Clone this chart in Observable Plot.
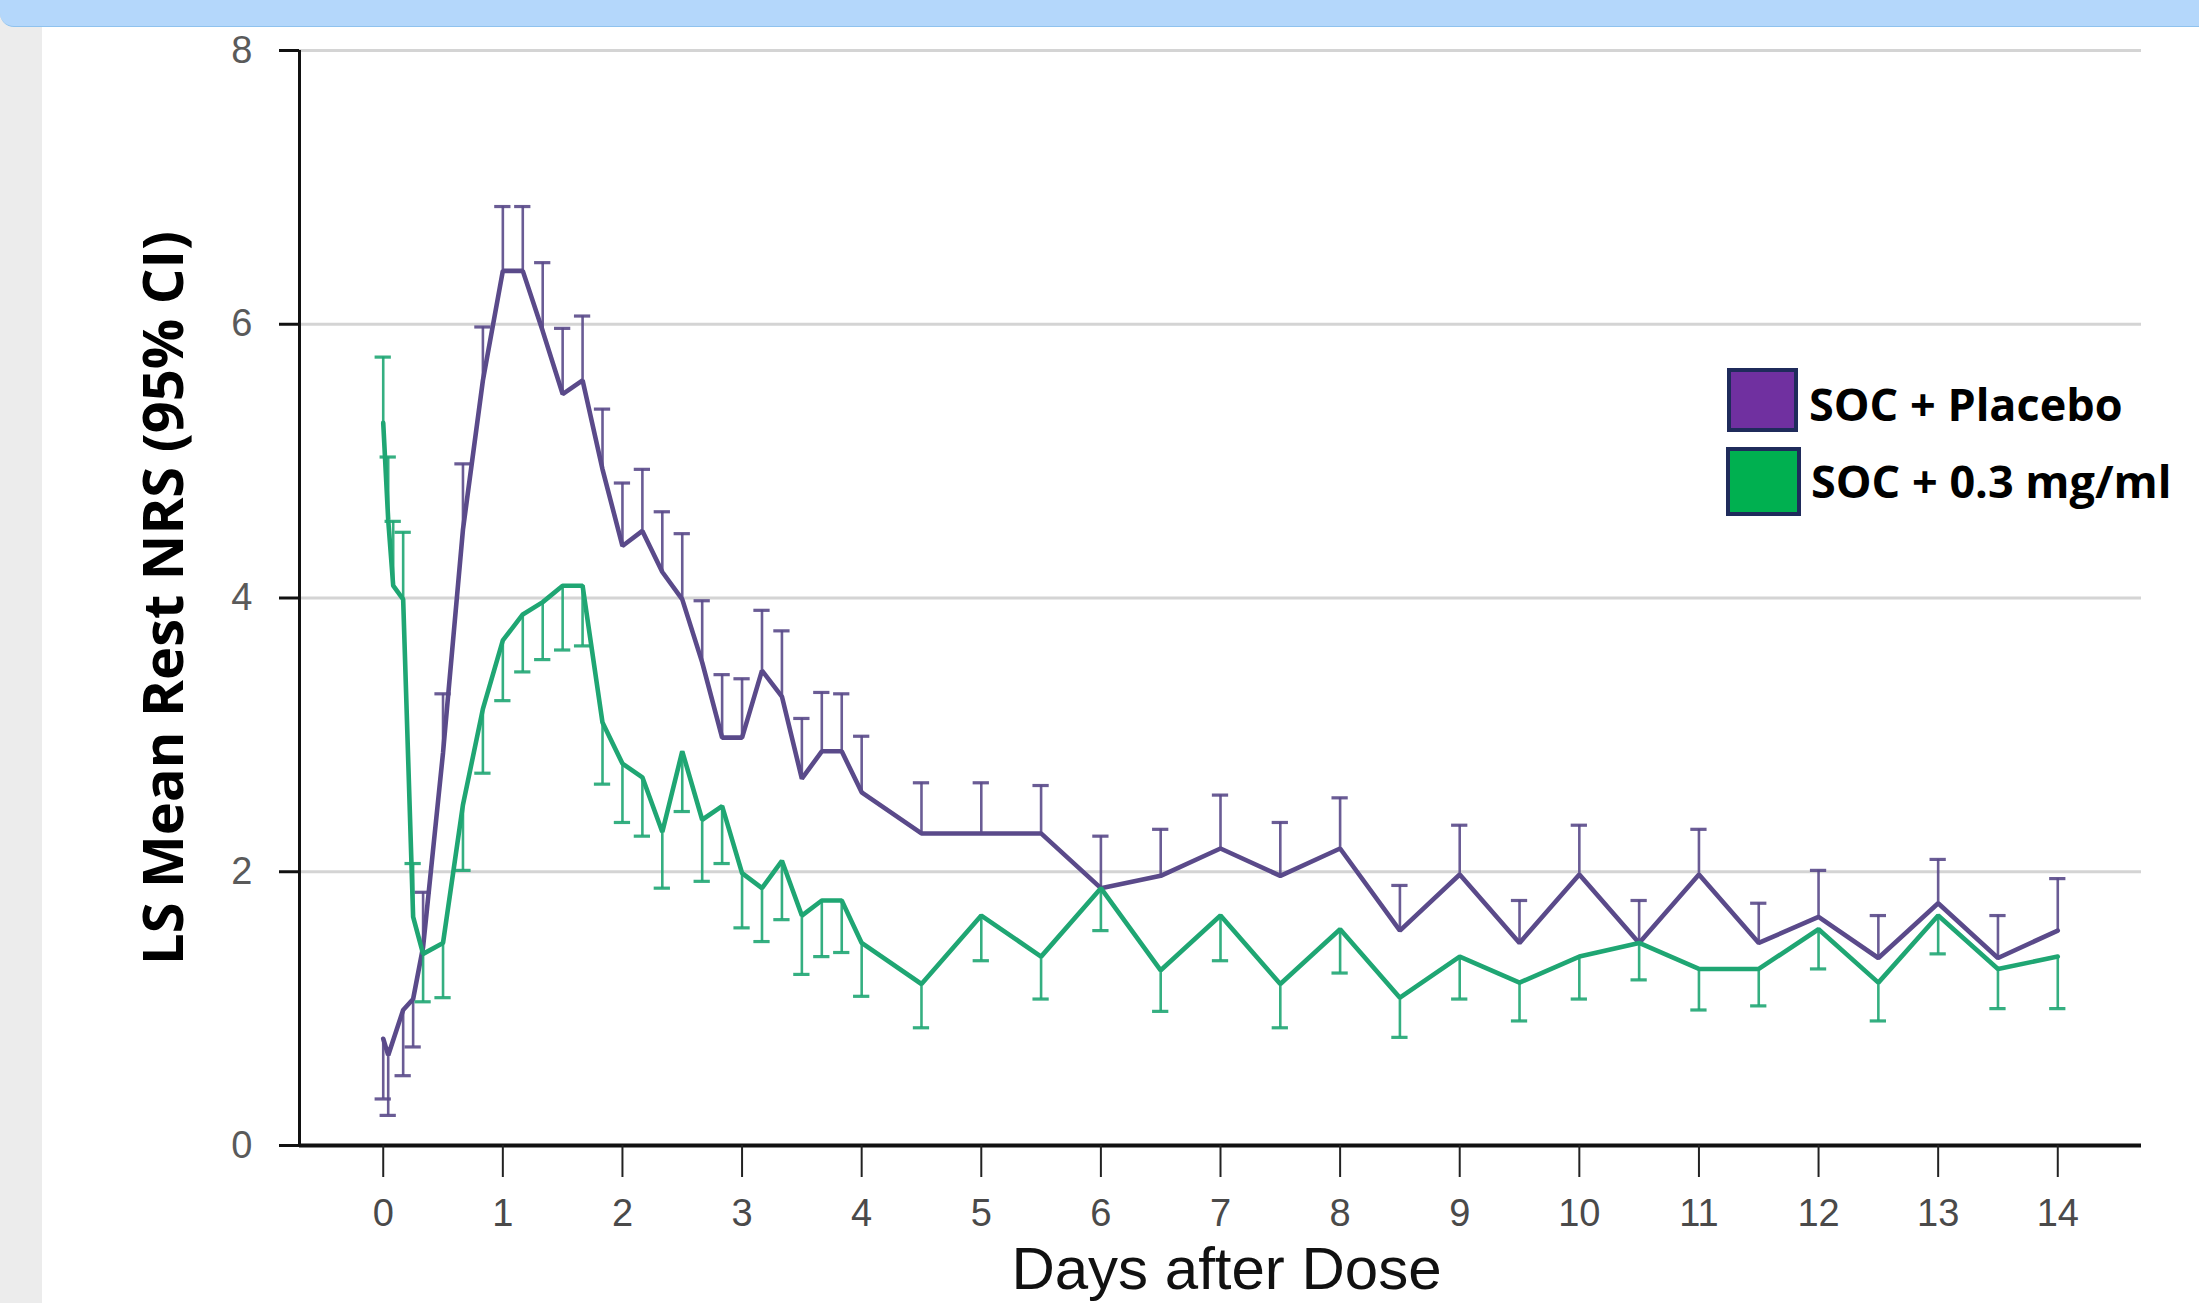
<!DOCTYPE html>
<html>
<head>
<meta charset="utf-8">
<script src="https://cdn.jsdelivr.net/npm/d3@7"></script>
<script src="https://cdn.jsdelivr.net/npm/@observablehq/plot@0.6"></script>
<style>
  html, body { margin: 0; padding: 0; background: #fff; overflow: hidden; width: 2199px; height: 1303px; }
  #chart { position: absolute; left: 0; top: 0; }
  .band { position: absolute; left: 0; top: 0; width: 2199px; height: 26px; background: #b4d7fb; border-bottom: 1px solid #8fc2ee; border-bottom-left-radius: 14px; z-index: 3; }
  .strip { position: absolute; left: 0; top: 0; width: 42px; height: 1303px; background: #ececec; z-index: 2; }
  .lgbox { position: absolute; box-sizing: border-box; border: 4px solid #1f2b5b; z-index: 4; }
  .lgtxt { position: absolute; font: bold 45px "Open Sans", sans-serif; line-height: 1; color: #000; white-space: nowrap; z-index: 4; }
</style>
</head>
<body>
<div id="chart"></div>
<div class="strip"></div>
<div class="band"></div>
<div id="legend"></div>
<script>
// ---- data ----
const seriesNames = ["SOC + Placebo", "SOC + 0.3 mg/ml"];
const seriesColors = ["#5a4a8a", "#1fa673"];
const legendColors = ["#7030a0", "#00b050"];

// hours after dose
const placeboHours = [0, 1, 4, 6,
  8, 12, 16, 20, 24, 28, 32, 36, 40, 44, 48, 52, 56, 60, 64, 68, 72, 76, 80, 84, 88, 92, 96,
  108, 120, 132, 144, 156, 168, 180, 192, 204, 216, 228, 240, 252, 264, 276, 288, 300, 312, 324, 336];
const placeboMean = [0.78, 0.66, 0.99, 1.07,
  1.45, 2.87, 4.50, 5.59, 6.39, 6.39, 5.95, 5.49, 5.59, 4.94, 4.38, 4.49, 4.19, 3.99, 3.53, 2.98, 2.98, 3.47, 3.28, 2.68, 2.88, 2.88, 2.58,
  2.28, 2.28, 2.28, 1.88, 1.97, 2.17, 1.97, 2.17, 1.57, 1.98, 1.48, 1.98, 1.48, 1.98, 1.48, 1.67, 1.37, 1.77, 1.37, 1.57];
const placeboCI = [0.34, 0.22, 0.51, 0.72,
  1.85, 3.30, 4.98, 5.98, 6.86, 6.86, 6.45, 5.97, 6.06, 5.38, 4.84, 4.94, 4.63, 4.47, 3.98, 3.44, 3.41, 3.91, 3.76, 3.12, 3.31, 3.30, 2.99,
  2.65, 2.65, 2.63, 2.26, 2.31, 2.56, 2.36, 2.54, 1.90, 2.34, 1.79, 2.34, 1.79, 2.31, 1.77, 2.01, 1.68, 2.09, 1.68, 1.95];

const drugHours = [0, 1, 2, 4, 6,
  8, 12, 16, 20, 24, 28, 32, 36, 40, 44, 48, 52, 56, 60, 64, 68, 72, 76, 80, 84, 88, 92, 96,
  108, 120, 132, 144, 156, 168, 180, 192, 204, 216, 228, 240, 252, 264, 276, 288, 300, 312, 324, 336];
const drugMean = [5.28, 4.57, 4.09, 3.99, 1.67,
  1.40, 1.48, 2.49, 3.19, 3.69, 3.88, 3.97, 4.09, 4.09, 3.09, 2.79, 2.69, 2.29, 2.88, 2.38, 2.48, 1.99, 1.88, 2.08, 1.68, 1.79, 1.79, 1.48,
  1.18, 1.68, 1.38, 1.88, 1.28, 1.68, 1.18, 1.58, 1.08, 1.38, 1.19, 1.38, 1.48, 1.29, 1.29, 1.58, 1.19, 1.68, 1.29, 1.38];
const drugCI = [5.76, 5.03, 4.56, 4.48, 2.06,
  1.05, 1.08, 2.01, 2.72, 3.25, 3.46, 3.55, 3.62, 3.65, 2.64, 2.36, 2.26, 1.88, 2.44, 1.93, 2.06, 1.59, 1.49, 1.65, 1.25, 1.38, 1.41, 1.09,
  0.86, 1.35, 1.07, 1.57, 0.98, 1.35, 0.86, 1.26, 0.79, 1.07, 0.91, 1.07, 1.21, 0.99, 1.02, 1.29, 0.91, 1.40, 1.00, 1.00];

const xTicks = [0, 1, 2, 3, 4, 5, 6, 7, 8, 9, 10, 11, 12, 13, 14];
const yTicks = [0, 2, 4, 6, 8];
const yGrid = [2, 4, 6, 8];
const xTitle = "Days after Dose";
const yTitle = "LS Mean Rest NRS (95% CI)";

// ---- build tables ----
const toRows = (hours, mean, ci) => hours.map((h, i) => ({ t: h / 24, mean: mean[i], ci: ci[i] }));
const placebo = toRows(placeboHours, placeboMean, placeboCI);
const drug = toRows(drugHours, drugMean, drugCI);

const xMin = -0.7, xMax = 14.7;
const capHalf = 0.068;

function seriesMarks(rows, color) {
  return [
    Plot.ruleX(rows, { x: "t", y1: "mean", y2: "ci", stroke: color, strokeWidth: 2.6, strokeOpacity: 0.9 }),
    Plot.ruleY(rows, { y: "ci", x1: d => d.t - capHalf, x2: d => d.t + capHalf, stroke: color, strokeWidth: 3.2, strokeOpacity: 0.9 }),
    Plot.line(rows, { x: "t", y: "mean", stroke: color, strokeWidth: 4.6, strokeLinejoin: "miter" })
  ];
}

const chart = Plot.plot({
  width: 2199,
  height: 1303,
  marginLeft: 299,
  marginRight: 58,
  marginTop: 50,
  marginBottom: 158,
  style: { background: "white", fontFamily: "'Liberation Sans', Arial, sans-serif" },
  x: { domain: [xMin, xMax] },
  y: { domain: [0, 8] },
  marks: [
    Plot.gridY(yGrid, { stroke: "#d4d4d4", strokeWidth: 3, strokeOpacity: 1 }),
    Plot.ruleY([0], { stroke: "#111", strokeWidth: 4 }),
    Plot.ruleX([xMin], { y1: 0, y2: 8, stroke: "#111", strokeWidth: 3 }),
    Plot.axisY({ ticks: yTicks, tickSize: 20, tickPadding: 27, fontSize: 38, fill: "#5a5a5a", stroke: "#111", strokeWidth: 3, label: null }),
    Plot.axisX({ ticks: xTicks, tickSize: 32, tickPadding: 22, fontSize: 38, fill: "#4a4a4a", stroke: "#222", strokeWidth: 2, label: null }),
    ...seriesMarks(placebo, seriesColors[0]),
    ...seriesMarks(drug, seriesColors[1]),
    Plot.text([yTitle], { text: d => d, frameAnchor: "left", textAnchor: "middle", lineAnchor: "middle", dx: -134, rotate: -90, fontSize: 56, fontWeight: "bold", fontFamily: "'Open Sans', sans-serif", fill: "#000" }),
    Plot.text([xTitle], { text: d => d, frameAnchor: "bottom", textAnchor: "middle", lineAnchor: "middle", dx: 6, dy: 124, fontSize: 60, fill: "#111" })
  ]
});
document.getElementById("chart").appendChild(chart);

// ---- legend ----
const legend = document.getElementById("legend");
const boxes = [
  { left: 1727, top: 368, w: 71, h: 64, tl: 1809, tt: 381 },
  { left: 1726, top: 447, w: 75, h: 69, tl: 1811, tt: 458 }
];
seriesNames.forEach((name, i) => {
  const b = boxes[i];
  const box = document.createElement("div");
  box.className = "lgbox";
  box.style.cssText = `left:${b.left}px;top:${b.top}px;width:${b.w}px;height:${b.h}px;background:${legendColors[i]};`;
  legend.appendChild(box);
  const t = document.createElement("div");
  t.className = "lgtxt";
  t.style.cssText = `left:${b.tl}px;top:${b.tt}px;`;
  t.textContent = name;
  legend.appendChild(t);
});
</script>
</body>
</html>
